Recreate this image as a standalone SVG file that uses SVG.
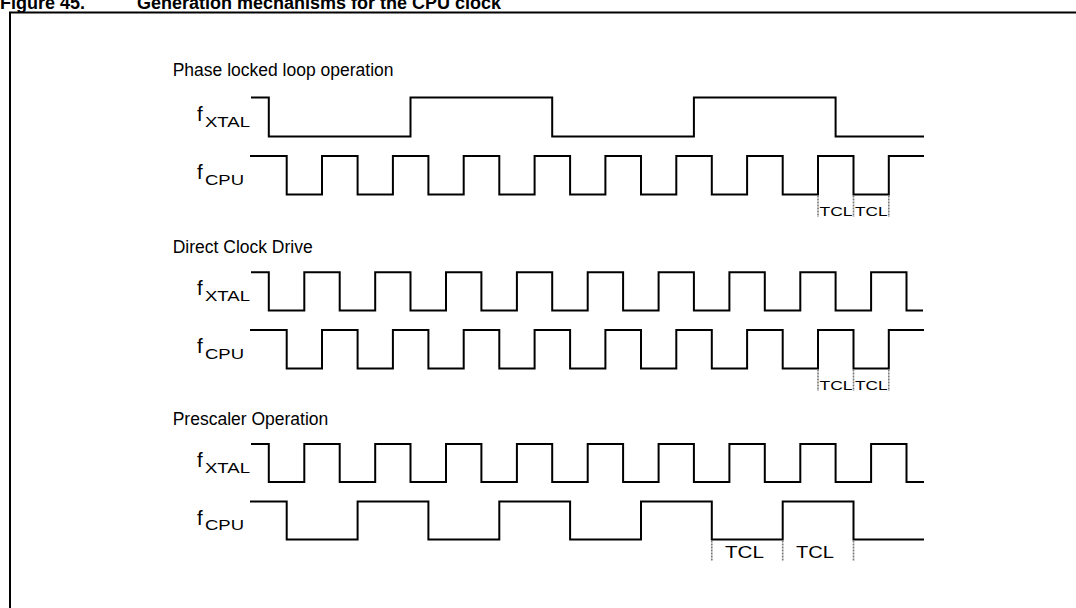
<svg xmlns="http://www.w3.org/2000/svg" width="1076" height="608" viewBox="0 0 1076 608">
<style>
.t{font-family:"Liberation Sans",Arial,sans-serif;fill:#000}
.h{font-size:17.5px}
.f{font-size:20.5px}
.s{font-size:15.5px}
.ti{font-size:18px;font-weight:bold}
.w{fill:none;stroke:#000;stroke-width:2;stroke-linejoin:miter;stroke-linecap:butt}
.m{fill:none;stroke:#777;stroke-width:1.6;stroke-dasharray:2 1}
.tcl{font-size:13px}
.tcl2{font-size:16px}
</style>
<rect width="1076" height="608" fill="#fff"/>
<g id="title">
<text class="t ti" x="0" y="8.5">Figure 45.</text>
<text class="t ti" x="137" y="8.5">Generation mechanisms for the CPU clock</text>
</g>
<rect x="10" y="12.5" width="1100" height="700" fill="none" stroke="#000" stroke-width="2"/>

<g id="pll">
<text class="t h" x="172.7" y="76">Phase locked loop operation</text>
<text class="t f" x="197" y="120.5">f</text><text class="t s" x="205" y="126.5" textLength="45" lengthAdjust="spacingAndGlyphs">XTAL</text>
<text class="t f" x="197" y="179">f</text><text class="t s" x="205" y="184.5" textLength="39" lengthAdjust="spacingAndGlyphs">CPU</text>
</g>
<g id="direct">
<text class="t h" x="172.7" y="252.5">Direct Clock Drive</text>
<text class="t f" x="197" y="295.3">f</text><text class="t s" x="205" y="301.3" textLength="45" lengthAdjust="spacingAndGlyphs">XTAL</text>
<text class="t f" x="197" y="353">f</text><text class="t s" x="205" y="358.5" textLength="39" lengthAdjust="spacingAndGlyphs">CPU</text>
</g>
<g id="prescaler">
<text class="t h" x="172.7" y="425">Prescaler Operation</text>
<text class="t f" x="197" y="467">f</text><text class="t s" x="205" y="473" textLength="45" lengthAdjust="spacingAndGlyphs">XTAL</text>
<text class="t f" x="197" y="524.5">f</text><text class="t s" x="205" y="530" textLength="39" lengthAdjust="spacingAndGlyphs">CPU</text>
</g>

<g id="waveforms">
<path class="w" d="M251,97.5 H268.8 V136.5 H410.5 V97.5 H552.2 V136.5 H693.9 V97.5 H835.6 V136.5 H924"/>
<path class="w" d="M250,156 H286.7 V194.5 H322 V156 H357.6 V194.5 H392.9 V156 H428.4 V194.5 H463.7 V156 H499.3 V194.5 H534.6 V156 H570.1 V194.5 H605.4 V156 H641 V194.5 H676.3 V156 H711.8 V194.5 H747.1 V156 H782.7 V194.5 H818 V156 H853.5 V194.5 H888.8 V156 H924"/>
<path class="w" d="M251,272.3 H268.8 V310.5 H304.3 V272.3 H339.7 V310.5 H375.2 V272.3 H410.5 V310.5 H446 V272.3 H481.4 V310.5 H516.9 V272.3 H552.2 V310.5 H587.7 V272.3 H623.1 V310.5 H658.6 V272.3 H693.9 V310.5 H729.4 V272.3 H764.8 V310.5 H800.3 V272.3 H835.6 V310.5 H871.1 V272.3 H906.5 V310.5 H923"/>
<path class="w" d="M250,330 H286.7 V368.5 H322 V330 H357.6 V368.5 H392.9 V330 H428.4 V368.5 H463.7 V330 H499.3 V368.5 H534.6 V330 H570.1 V368.5 H605.4 V330 H641 V368.5 H676.3 V330 H711.8 V368.5 H747.1 V330 H782.7 V368.5 H818 V330 H853.5 V368.5 H888.8 V330 H924"/>
<path class="w" d="M251,444 H268.8 V482 H304.3 V444 H339.7 V482 H375.2 V444 H410.5 V482 H446 V444 H481.4 V482 H516.9 V444 H552.2 V482 H587.7 V444 H623.1 V482 H658.6 V444 H693.9 V482 H729.4 V444 H764.8 V482 H800.3 V444 H835.6 V482 H871.1 V444 H906.5 V482 H924"/>
<path class="w" d="M250,501.5 H286.7 V539.5 H357.6 V501.5 H428.4 V539.5 H499.3 V501.5 H570.1 V539.5 H641 V501.5 H711.8 V539.5 H782.7 V501.5 H853.5 V539.5 H924"/>
</g>

<g id="tcl">
<path class="m" d="M818,195.5 V217 M853.5,195.5 V217 M888.8,195.5 V217"/>
<text class="t tcl" x="819.5" y="216" textLength="33" lengthAdjust="spacingAndGlyphs">TCL</text>
<text class="t tcl" x="855" y="216" textLength="32.5" lengthAdjust="spacingAndGlyphs">TCL</text>
<path class="m" d="M818,369.5 V391 M853.5,369.5 V391 M888.8,369.5 V391"/>
<text class="t tcl" x="819.5" y="390" textLength="33" lengthAdjust="spacingAndGlyphs">TCL</text>
<text class="t tcl" x="855" y="390" textLength="32.5" lengthAdjust="spacingAndGlyphs">TCL</text>
<path class="m" d="M711.8,540.5 V561 M782.7,540.5 V561 M853.5,540.5 V561"/>
<text class="t tcl2" x="725" y="558" textLength="39" lengthAdjust="spacingAndGlyphs">TCL</text>
<text class="t tcl2" x="796" y="558" textLength="38" lengthAdjust="spacingAndGlyphs">TCL</text>
</g>
</svg>
